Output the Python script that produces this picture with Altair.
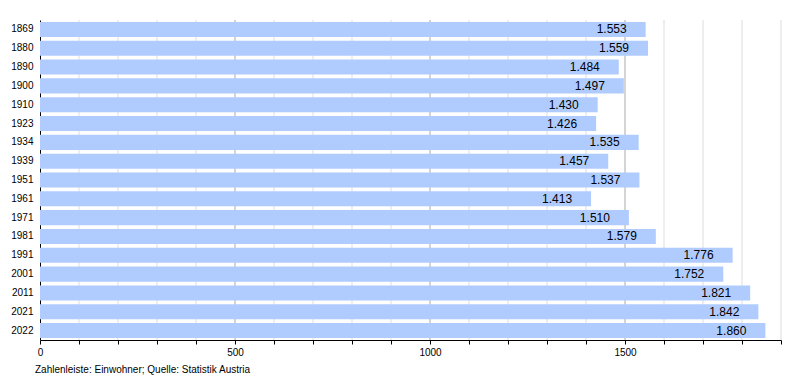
import altair as alt
import pandas as pd

years = ["1869", "1880", "1890", "1900", "1910", "1923", "1934", "1939", "1951",
         "1961", "1971", "1981", "1991", "2001", "2011", "2021", "2022"]
population = [1553, 1559, 1484, 1497, 1430, 1426, 1535, 1457, 1537,
              1413, 1510, 1579, 1776, 1752, 1821, 1842, 1860]
minor_grid = [100, 200, 300, 400, 600, 700, 800, 900, 1100, 1200, 1300, 1400,
              1600, 1700, 1800, 1900]
major_grid = [500, 1000, 1500]
tick_values = list(range(0, 2000, 100))

df = pd.DataFrame({"year": years, "pop": population})
df["label"] = [f"{v:,}".replace(",", ".") for v in population]

FONT = "Liberation Sans"
xscale = alt.Scale(domain=[0, 1900], nice=False, zero=True)

x_axis = alt.Axis(
    title=None,
    values=tick_values,
    labelExpr="datum.value % 500 == 0 ? datum.value : ''",
    labelFont=FONT, labelFontSize=10, labelColor="black",
    labelPadding=3,
    tickColor="black", tickSize=4,
    domainColor="black",
    grid=False,
    labelOverlap=False,
    labelFlush=False,
    format="d",
)
y_axis = alt.Axis(
    title=None, ticks=False, domainColor="black",
    labelFont=FONT, labelFontSize=10, labelColor="black",
    labelPadding=7, grid=False,
)
yscale = alt.Scale(paddingInner=0.2, paddingOuter=0.1)

minor = alt.Chart(pd.DataFrame({"v": minor_grid})).mark_rule(
    color="#dddddd", strokeWidth=1
).encode(x=alt.X("v:Q", scale=xscale, axis=x_axis))
major = alt.Chart(pd.DataFrame({"v": major_grid})).mark_rule(
    color="#aaaaaa", strokeWidth=1
).encode(x=alt.X("v:Q", scale=xscale, axis=x_axis))

bars = alt.Chart(df).mark_bar(color="#b0ccff").encode(
    x=alt.X("pop:Q", scale=xscale, axis=x_axis),
    y=alt.Y("year:N", sort=years, scale=yscale, axis=y_axis),
)
text = alt.Chart(df).mark_text(
    align="right", baseline="middle", dx=-19, font=FONT, fontSize=12, color="black"
).encode(
    x=alt.X("pop:Q", scale=xscale, axis=x_axis),
    y=alt.Y("year:N", sort=years, scale=yscale, axis=y_axis),
    text="label:N",
)

chart = alt.layer(minor, major, bars, text).properties(
    width=741,
    height=320,
    autosize=alt.AutoSizeParams(type="none"),
    padding={"left": 32, "top": 12, "right": 10, "bottom": 40},
    title=alt.TitleParams(
        "Zahlenleiste: Einwohner; Quelle: Statistik Austria",
        orient="bottom", anchor="start", frame="group", font=FONT, fontSize=10,
        fontWeight="normal", color="black", dx=-5, offset=8,
    ),
).configure_view(stroke=None).configure_axis(domainWidth=1)

chart.save("out.html", embed_options={"renderer": "svg", "actions": False})
